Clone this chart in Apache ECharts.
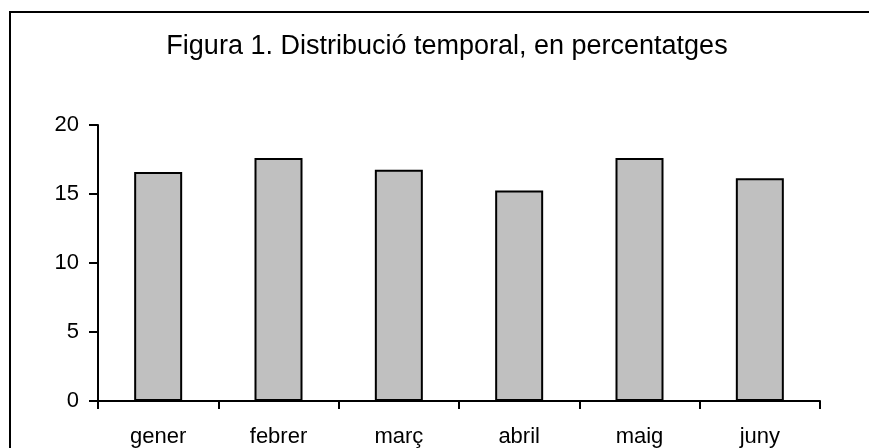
<!DOCTYPE html>
<html>
<head>
<meta charset="utf-8">
<script src="https://cdn.jsdelivr.net/npm/echarts@6/dist/echarts.min.js"></script>
<style>
  html, body { margin: 0; padding: 0; background: #fff; }
  #chart { width: 869px; height: 448px; }
</style>
</head>
<body>
<div id="chart"></div>
<script>
const titleText = 'Figura 1. Distribució temporal, en percentatges'
const months = ['gener', 'febrer', 'març', 'abril', 'maig', 'juny']
const percents = [16.6, 17.6, 16.75, 15.25, 17.6, 16.15]
const yTicks = [0, 5, 10, 15, 20]

const chart = echarts.init(document.getElementById('chart'))
const font = 'Liberation Sans, Arial, sans-serif'

const option = {
  animation: false,
  backgroundColor: '#fff',
  textStyle: { fontFamily: font },
  title: {
    text: titleText,
    left: 442,
    textAlign: 'center',
    top: 28,
    textStyle: { fontFamily: font, fontSize: 27, fontWeight: 'normal', color: '#000' }
  },
  // outer frame of the figure
  graphic: [
    {
      type: 'rect',
      shape: { x: 10, y: 12, width: 880, height: 460 },
      style: { fill: 'none', stroke: '#000', lineWidth: 2 },
      silent: true
    }
  ],
  grid: { left: 98, right: 49, top: 125, bottom: 47 },
  xAxis: {
    type: 'category',
    data: months,
    boundaryGap: true,
    axisLine: { lineStyle: { color: '#000', width: 2 } },
    axisTick: { show: true, length: 8, lineStyle: { color: '#000', width: 2 } },
    axisLabel: { color: '#000', fontSize: 22, margin: 25, fontFamily: font },
    splitLine: { show: false }
  },
  yAxis: {
    type: 'value',
    min: yTicks[0],
    max: yTicks[yTicks.length - 1],
    interval: 5,
    axisLine: { show: true, lineStyle: { color: '#000', width: 2 } },
    axisTick: { show: true, length: 9, lineStyle: { color: '#000', width: 2 } },
    axisLabel: { color: '#000', fontSize: 22, margin: 19, fontFamily: font },
    splitLine: { show: false }
  },
  series: [
    {
      type: 'bar',
      data: percents,
      barWidth: 48,
      itemStyle: { color: '#c0c0c0', borderColor: '#000', borderWidth: 2 }
    }
  ]
}

chart.setOption(option)
</script>
</body>
</html>
